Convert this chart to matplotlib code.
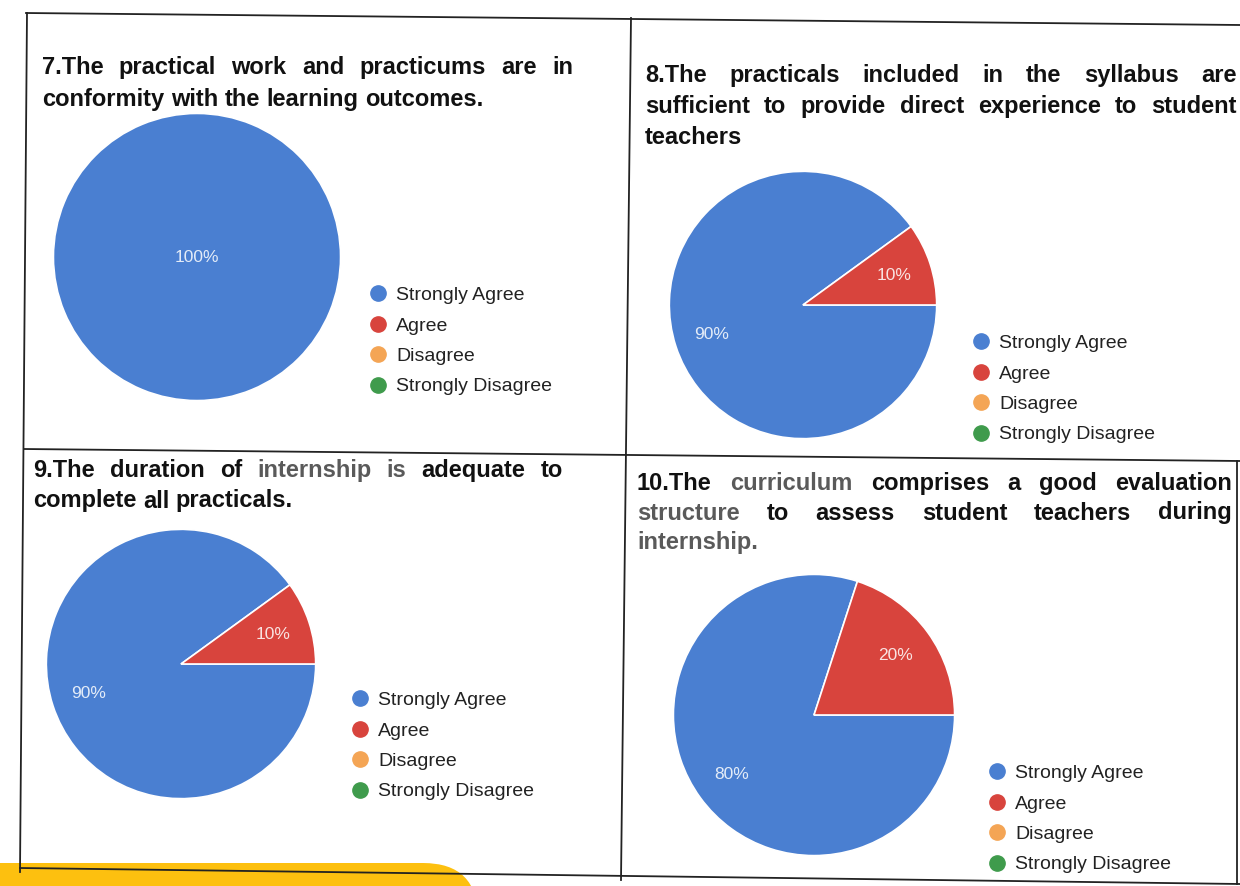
import matplotlib
matplotlib.use("Agg")
import matplotlib.pyplot as plt
from matplotlib.lines import Line2D
from matplotlib.patches import FancyBboxPatch

plt.rcParams['font.family'] = ['Liberation Sans', 'DejaVu Sans']

W, H = 1240, 886

categories = ['Strongly Agree', 'Agree', 'Disagree', 'Strongly Disagree']
colors = ['#4a7fd1', '#d8443d', '#f4a555', '#3f9b4c']

q7 = [100, 0, 0, 0]
q8 = [90, 10, 0, 0]
q9 = [90, 10, 0, 0]
q10 = [80, 20, 0, 0]

title7 = ["7.The practical work and practicums are in",
          "conformity with the learning outcomes."]
title8 = ["8.The practicals included in the syllabus are",
          "sufficient to provide direct experience to student",
          "teachers"]
title9 = ["9.The duration of internship is adequate to",
          "complete all practicals."]
title10 = ["10.The curriculum comprises a good evaluation",
           "structure to assess student teachers during",
           "internship."]

# words that came out lighter in the scan
gray_words = {"internship", "is", "The", "curriculum", "structure", "internship."}

fig = plt.figure(figsize=(W / 100, H / 100), dpi=100)
bg = fig.add_axes([0, 0, 1, 1])
bg.set_xlim(0, W)
bg.set_ylim(H, 0)
bg.axis('off')

# scanned yellow sticker at the bottom
bg.add_patch(FancyBboxPatch((-60, 863), 538, 80,
                            boxstyle='round,pad=0,rounding_size=55',
                            fc='#fdc00f', ec='none', zorder=0))

# table frame (scan is slightly rotated)
frame = [((26, 13), (1240, 25)),
         ((27, 13), (20, 872)),
         ((631, 18), (621, 880)),
         ((24, 449), (1240, 461)),
         ((20, 868), (1240, 884)),
         ((1237, 461), (1237, 884))]
for (xa, ya), (xb, yb) in frame:
    bg.plot([xa, xb], [ya, yb], color='#222222', lw=1.3, zorder=1)

renderer = fig.canvas.get_renderer()
TFS = 17.0


def title_block(lines, x0, x1, y0, pitch, gray_ok=False):
    for k, line in enumerate(lines):
        words = line.split()
        y = y0 + k * pitch
        texts = []
        for wd in words:
            c = '#5a5a5a' if (gray_ok and wd in gray_words) else '#111111'
            texts.append(bg.text(0, y, wd, fontsize=TFS, fontweight='bold',
                                 color=c, va='center', ha='left'))
        widths = [t.get_window_extent(renderer).width for t in texts]
        last = k == len(lines) - 1
        if last or len(words) == 1:
            gap = TFS * 1.389 * 0.278
        else:
            gap = (x1 - x0 - sum(widths)) / (len(words) - 1)
        x = x0
        for t, w in zip(texts, widths):
            t.set_x(x)
            x += w + gap


title_block(title7, 42, 573, 67, 32)
title_block(title8, 645, 1237, 75, 31)
title_block(title9, 33, 563, 470, 31, gray_ok=True)
title_block(title10, 637, 1232, 483, 30, gray_ok=True)


def pie_panel(values, cx, cy, r, lx, ly):
    ax = fig.add_axes([(cx - r) / W, 1 - (cy + r) / H, 2 * r / W, 2 * r / H])
    vals = [v for v in values if v > 0]
    cols = [c for v, c in zip(values, colors) if v > 0]
    pdist = 0.0 if len(vals) == 1 else 0.72
    ax.pie(vals, colors=cols, startangle=0, counterclock=False,
           radius=1, autopct=lambda p: f'{p:.0f}%', pctdistance=pdist,
           wedgeprops=dict(edgecolor='white', linewidth=1.2),
           textprops=dict(color='white', fontsize=12.5, alpha=0.85))
    ax.set_xlim(-1.01, 1.01)
    ax.set_ylim(-1.01, 1.01)
    handles = [Line2D([], [], marker='o', ls='', markersize=11, color=c, markeredgecolor=c)
               for c in colors]
    ax.legend(handles, categories, loc='center left', bbox_to_anchor=(lx, ly),
              bbox_transform=bg.transData, frameon=False, fontsize=14,
              handlelength=0.8, handletextpad=0.55, labelspacing=0.66,
              borderpad=0, borderaxespad=0, labelcolor='#222222')
    return ax


pie_panel(q7, 197, 257, 145, 370, 341)
pie_panel(q8, 803, 305, 135, 973, 389)
pie_panel(q9, 181, 664, 136, 352, 746)
pie_panel(q10, 814, 715, 142, 989, 819)

fig.savefig('out.png', dpi=100)
